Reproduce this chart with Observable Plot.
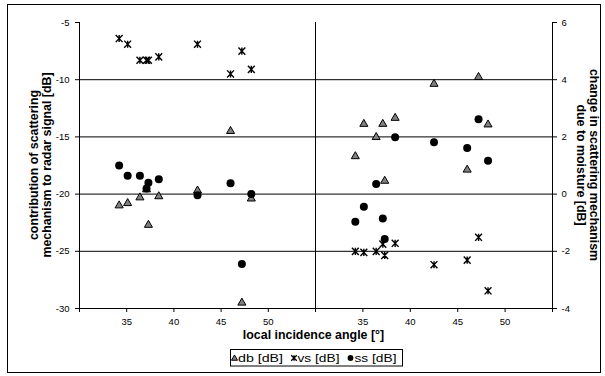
<!DOCTYPE html>
<html><head><meta charset="utf-8">
<script src="https://cdn.jsdelivr.net/npm/d3@7"></script>
<script src="https://cdn.jsdelivr.net/npm/@observablehq/plot@0.6"></script>
<style>
body{margin:0;background:#fff;}
#chart{position:relative;width:605px;height:376px;font-family:"Liberation Sans",Arial,sans-serif;}
#chart svg{position:absolute;left:0;top:0;overflow:visible;}
</style></head><body><div id="chart"></div>
<script>
// local incidence angle [°]
const angle = [34.2, 35.1, 36.4, 37.1, 37.3, 38.4, 42.5, 46.0, 47.2, 48.2];
// left panel: contribution of scattering mechanism to radar signal [dB]
const dbLeft = [-21.0, -20.8, -20.3, -19.6, -22.7, -20.2, -19.7, -14.5, -29.5, -20.4];
const vsLeft = [-6.4, -6.9, -8.3, -8.3, -8.3, -8.0, -6.9, -9.5, -7.5, -9.1];
const ssLeft = [-17.5, -18.4, -18.4, -19.5, -19.0, -18.7, -20.1, -19.05, -26.1, -20.0];
// right panel: change in scattering mechanism due to moisture [dB]
const dbRight = [1.32, 2.45, 1.99, 2.45, 0.46, 2.66, 3.85, 0.85, 4.09, 2.43];
const vsRight = [-2.0, -2.04, -2.0, -1.75, -2.14, -1.72, -2.47, -2.31, -1.51, -3.38];
const ssRight = [-0.97, -0.44, 0.35, -0.85, -1.57, 1.99, 1.81, 1.61, 2.62, 1.17];
// axes
const xTicks = [30, 35, 40, 45, 50, 55];
const yTicksLeft = [-30, -25, -20, -15, -10, -5];
const yTicksRight = [-4, -2, 0, 2, 4, 6];
const seriesNames = ["db [dB]", "vs [dB]", "ss [dB]"];
const xTitle = "local incidence angle [°]";
const yTitleLeft = ["contribution of scattering", "mechanism to radar signal [dB]"];
const yTitleRight = ["change in scattering mechanism", "due to moisture [dB]"];

const rowsLeft = angle.map((a, i) => ({a, db: dbLeft[i], vs: vsLeft[i], ss: ssLeft[i]}));
const rowsRight = angle.map((a, i) => ({a, db: dbRight[i], vs: vsRight[i], ss: ssRight[i]}));

const star = {
  draw(ctx, size) {
    const r = Math.sqrt(size / Math.PI);
    ctx.moveTo(0, -r); ctx.lineTo(0, r);
    ctx.moveTo(-r * 0.95, -r); ctx.lineTo(r * 0.95, r);
    ctx.moveTo(-r * 0.95, r); ctx.lineTo(r * 0.95, -r);
  }
};

const style = {fontFamily: "Liberation Sans, Arial, sans-serif", fontSize: "9.5px", color: "#000", background: "transparent", overflow: "visible"};
const fmt = d => String(d);
const xFmt = d => (d === 30 || d === 55) ? "" : String(d);

function seriesMarks(rows) {
  return [
    Plot.dot(rows, {x: "a", y: "db", symbol: "triangle", r: 3, fill: "#808080", stroke: "#000", strokeWidth: 1}),
    Plot.dot(rows, {x: "a", y: "vs", symbol: star, r: 3.6, fill: "none", stroke: "#000", strokeWidth: 1.4}),
    Plot.dot(rows, {x: "a", y: "ss", symbol: "circle", r: 4, fill: "#000", stroke: "none"})
  ];
}

const left = Plot.plot({
  width: 315, height: 376,
  marginLeft: 79, marginRight: 0, marginTop: 22, marginBottom: 68,
  style,
  x: {domain: [30, 55]},
  y: {domain: [-30, -5]},
  marks: [
    Plot.ruleY([-25, -20, -15, -10], {stroke: "#000"}),
    Plot.ruleY([-30], {stroke: "#000"}),
    Plot.ruleX([30], {stroke: "#000"}),
    Plot.ruleX([55], {stroke: "#000"}),
    Plot.axisX({ticks: xTicks, tickSize: 4, tickPadding: 6, tickFormat: xFmt, label: null}),
    Plot.axisY({ticks: yTicksLeft, tickSize: 4, tickPadding: 6, tickFormat: fmt, label: null}),
    ...seriesMarks(rowsLeft)
  ]
});

const right = Plot.plot({
  width: 605, height: 376,
  marginLeft: 315, marginRight: 53, marginTop: 22, marginBottom: 68,
  style,
  x: {domain: [30, 55]},
  y: {domain: [-4, 6]},
  marks: [
    Plot.ruleY([-2, 0, 2, 4], {stroke: "#000"}),
    Plot.ruleY([-4], {stroke: "#000"}),
    Plot.ruleX([55], {stroke: "#000"}),
    Plot.axisX({ticks: xTicks, tickSize: 4, tickPadding: 6, tickFormat: xFmt, label: null}),
    Plot.axisY({anchor: "right", ticks: yTicksRight, tickSize: 4, tickPadding: 5, tickFormat: fmt, label: null}),
    ...seriesMarks(rowsRight)
  ]
});

const chart = document.getElementById("chart");
chart.appendChild(left);
chart.appendChild(right);

// overlay: frame, titles, legend
const ov = d3.select(chart).append("svg").attr("width", 605).attr("height", 376)
  .style("font-family", "Liberation Sans, Arial, sans-serif");
ov.append("rect").attr("x", 7.5).attr("y", 4.5).attr("width", 593).attr("height", 368)
  .attr("fill", "none").attr("stroke", "#000").attr("stroke-width", 1);

ov.append("text").attr("x", 313.5).attr("y", 339).attr("text-anchor", "middle")
  .attr("font-weight", "bold").attr("font-size", 12.4).text(xTitle);

const lh = 12.5;
const tl = ov.append("text").attr("transform", "translate(40,165) rotate(-90)")
  .attr("text-anchor", "middle").attr("font-weight", "bold").attr("font-size", 12.4);
tl.selectAll("tspan").data(yTitleLeft).join("tspan")
  .attr("x", 0).attr("y", (d, i) => (i - 0.5) * lh).attr("dy", "0.35em").text(d => d);
const tr = ov.append("text").attr("transform", "translate(588,165) rotate(90)")
  .attr("text-anchor", "middle").attr("font-weight", "bold").attr("font-size", 12.4);
tr.selectAll("tspan").data(yTitleRight).join("tspan")
  .attr("x", 0).attr("y", (d, i) => (i - 0.5) * lh).attr("dy", "0.35em").text(d => d);

// legend
const lg = ov.append("g");
lg.append("rect").attr("x", 230.5).attr("y", 349.5).attr("width", 172).attr("height", 16.5)
  .attr("fill", "#fff").attr("stroke", "#000");
const legendItems = [
  {name: seriesNames[0], sx: 234.5, tx: 238, w: 45, sym: "tri"},
  {name: seriesNames[1], sx: 294, tx: 297.5, w: 42, sym: "star"},
  {name: seriesNames[2], sx: 350.5, tx: 354.5, w: 42, sym: "circ"}
];
for (const it of legendItems) {
  const cy = 358;
  if (it.sym === "tri") {
    lg.append("path").attr("transform", `translate(${it.sx},${cy + 0.5})`)
      .attr("d", d3.symbol(d3.symbolTriangle, 16)()).attr("fill", "#808080").attr("stroke", "#000");
  } else if (it.sym === "star") {
    const r = 2.8;
    lg.append("path").attr("transform", `translate(${it.sx},${cy})`)
      .attr("d", `M0,${-r}L0,${r}M${-r},${-r}L${r},${r}M${-r},${r}L${r},${-r}`)
      .attr("fill", "none").attr("stroke", "#000").attr("stroke-width", 1.3);
  } else {
    lg.append("circle").attr("cx", it.sx).attr("cy", cy).attr("r", 2.9).attr("fill", "#000");
  }
  lg.append("text").attr("x", it.tx).attr("y", cy + 4).attr("font-size", 11.5)
    .attr("textLength", it.w).attr("lengthAdjust", "spacingAndGlyphs").text(it.name);
}
</script></body></html>
